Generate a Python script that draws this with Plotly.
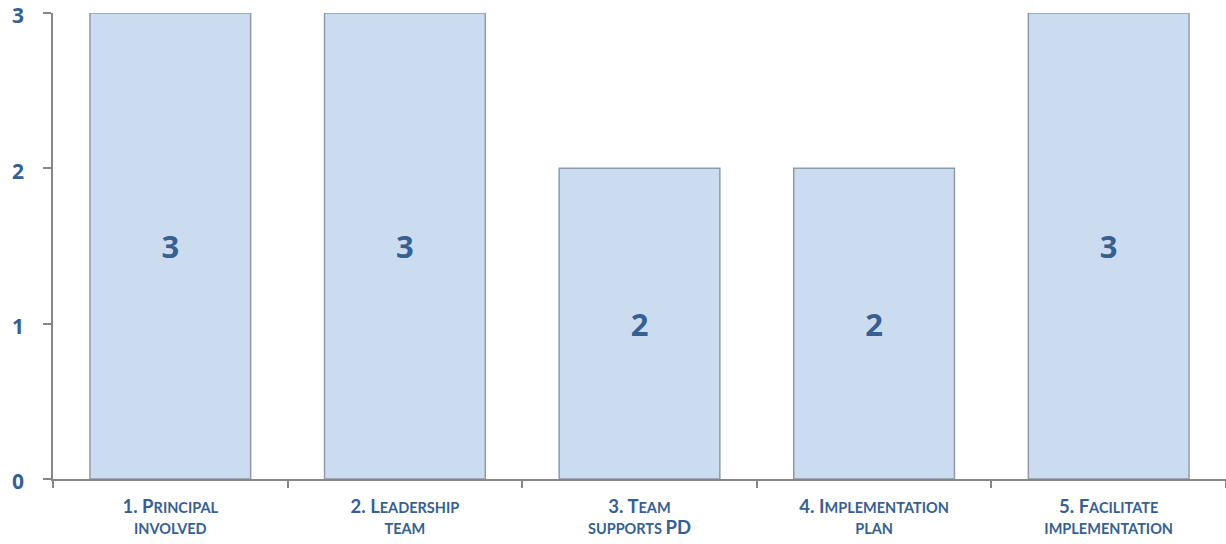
import plotly.graph_objects as go

categories = ["1. Principal involved", "2. Leadership team", "3. Team supports PD",
              "4. Implementation plan", "5. Facilitate implementation"]
values = [3, 3, 2, 2, 3]
tick_vals_y = [0, 1, 2, 3]

BLUE = "#366092"
FONT = "Lato, Open Sans, sans-serif"
NUMFONT = "Open Sans, Lato, sans-serif"
CAP = "font-size:18.5px"
SC = "font-size:14.5px"

def cap(t):
    return f"<span style='{CAP}'>{t}</span>"

def sc(t):
    return f"<span style='{SC}'>{t}</span>"

tick_labels = [
    "<b>" + cap("1. P") + sc("RINCIPAL") + "<br>" + sc("INVOLVED") + "</b>",
    "<b>" + cap("2. L") + sc("EADERSHIP") + "<br>" + sc("TEAM") + "</b>",
    "<b>" + cap("3. T") + sc("EAM") + "<br>" + sc("SUPPORTS ") + cap("PD") + "</b>",
    "<b>" + cap("4. I") + sc("MPLEMENTATION") + "<br>" + sc("PLAN") + "</b>",
    "<b>" + cap("5. F") + sc("ACILITATE") + "<br>" + sc("IMPLEMENTATION") + "</b>",
]

fig = go.Figure()
fig.add_trace(go.Bar(
    x=categories, y=values,
    marker=dict(color="#CBDCF1", line=dict(color="#909BA9", width=1.5)),
    text=[f"<b>{v}</b>" for v in values],
    textposition="inside", insidetextanchor="middle",
    textfont=dict(family=NUMFONT, size=31, color=BLUE),
    width=0.685,
    hoverinfo="skip",
))

fig.update_layout(
    width=1226, height=544,
    margin=dict(l=53, r=0, t=13, b=65),
    plot_bgcolor="white", paper_bgcolor="white",
    showlegend=False,
    font=dict(family=FONT, color=BLUE),
)
fig.update_xaxes(
    tickmode="array", tickvals=categories, ticktext=tick_labels,
    tickfont=dict(size=15.5, color=BLUE, family=FONT),
    showline=True, linecolor="#868686", linewidth=1.5,
    ticks="outside", tickson="boundaries", ticklen=7, tickcolor="#868686", tickwidth=1.5,
    showgrid=False, range=[-0.5, 4.5], automargin=False, ticklabelstandoff=14,
)
fig.update_yaxes(
    range=[0, 3], tickvals=tick_vals_y,
    ticktext=[f"<b>{v}</b>" for v in tick_vals_y],
    tickfont=dict(size=21, color=BLUE, family=NUMFONT),
    showline=True, linecolor="#868686", linewidth=1.5,
    ticks="outside", ticklen=8, tickcolor="#868686", tickwidth=1.5,
    showgrid=False, zeroline=False, ticklabelstandoff=15, automargin=False,
    ticklabeloverflow="allow", ticklabelshift=3,
)

fig.write_html("out.html", config={"displayModeBar": False},
               post_script="document.body.style.margin='0';")
